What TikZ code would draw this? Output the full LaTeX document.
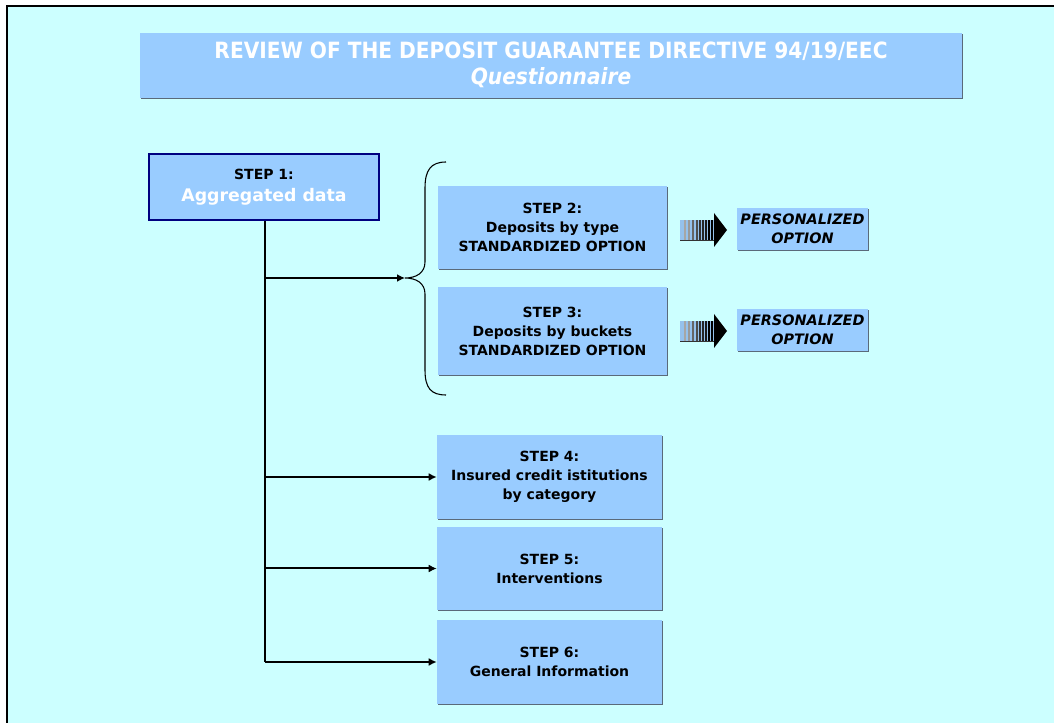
\documentclass[tikz,border=0pt]{standalone}
\usepackage{fontspec}
\setmainfont{DejaVu Sans}
\newfontfamily\cond{DejaVu Sans Condensed}
\usetikzlibrary{arrows.meta,shadows}
\definecolor{bgcyan}{HTML}{CCFFFF}
\definecolor{boxblue}{HTML}{99CCFF}
\definecolor{navy}{HTML}{000080}
\definecolor{shadowgray}{HTML}{5A6A7A}
\tikzset{
  bx/.style={rectangle, fill=boxblue, draw=none, inner sep=0pt, align=center,
    general shadow={fill=shadowgray, shadow xshift=1pt, shadow yshift=-1pt},
    font=\bfseries\fontsize{10.5}{14.25}\selectfont},
  stepw/.style={minimum width=171.75pt},
  lowstep/.style={minimum width=168.75pt, minimum height=63pt},
  popt/.style={minimum width=98.25pt, minimum height=31.5pt, font=\bfseries\itshape\fontsize{10.8}{14}\selectfont},
  link/.style={line width=1.5pt, -{Latex[length=6pt,width=6pt]}},
  trunk/.style={line width=1.5pt},
}
\begin{document}
\begin{tikzpicture}[x=0.75pt,y=-0.75pt]
\useasboundingbox (0,0) rectangle (1054,723);
% background and frame
\fill[white] (0,0) rectangle (1054,723);
\fill[bgcyan] (7,6) rectangle (1054,723);
\draw[line width=1.8pt] (7,723) -- (7,6) -- (1054,6);

% title
\node[bx, minimum width=616.5pt, minimum height=48.75pt, text=white,
  font=\cond\bfseries\fontsize{16.8}{19.5}\selectfont] (title) at (551,65.5)
  {\raisebox{3pt}{REVIEW OF THE DEPOSIT GUARANTEE DIRECTIVE 94/19/EEC}\\\raisebox{3pt}{\itshape Questionnaire}};

% step 1
\node[bx, minimum width=172.5pt, minimum height=49.5pt, draw=navy, line width=2.2pt] (s1) at (264,187)
  {STEP 1:\\[2pt]{\color{white}\fontsize{13}{16}\selectfont Aggregated data}};

% steps 2, 3
\node[bx, stepw, minimum height=62.25pt] (s2) at (552.5,227.5)
  {STEP 2:\\Deposits by type\\STANDARDIZED OPTION};
\node[bx, stepw, minimum height=66pt] (s3) at (552.5,331)
  {STEP 3:\\Deposits by buckets\\STANDARDIZED OPTION};

% personalized options
\node[bx, popt] (p2) at (802.5,229) {PERSONALIZED\\OPTION};
\node[bx, popt] (p3) at (802.5,330) {PERSONALIZED\\OPTION};

% steps 4-6
\node[bx, lowstep] (s4) at (549.5,477)
  {STEP 4:\\Insured credit istitutions\\by category};
\node[bx, lowstep, minimum height=62.25pt] (s5) at (549.5,568.5)
  {STEP 5:\\Interventions};
\node[bx, lowstep] (s6) at (549.5,662)
  {STEP 6:\\General Information};

% brace
\coordinate (bt) at (405,278);
\draw[line width=0.8pt] (446,162) .. controls (431,162) and (425,170) .. (425,188)
  -- (425,262) .. controls (425,273) and (416,278) .. (bt)
  .. controls (416,278) and (425,283) .. (425,294)
  -- (425,370) .. controls (425,388) and (431,395) .. (446,395);

% trunk and branches
\coordinate (j2) at (265,278);
\coordinate (j6) at (265,662);
\draw[trunk] (s1.south -| j6) -- (j6);
\draw[link] (j2) -- (bt);
\draw[link] (s4.west -| j6) -- (s4.west);
\draw[link] (s5.west -| j6) -- (s5.west);
\draw[link] (j6) -- (s6.west);

% striped block arrows
\foreach \yc in {230,331}{
  \fill[boxblue!85!gray] (680,\yc-10) rectangle (714,\yc+10);
  \foreach \xs/\cc in {684/gray!70, 688/gray!80, 692/black!60, 696/black!70, 699/black!80, 702/black!85, 705/black!90, 708/black, 711/black}{
    \fill[\cc] (\xs,\yc-10) rectangle (\xs+1.6,\yc+10);
  }
  \fill[black!80] (680,\yc+10) rectangle (714,\yc+11);
  \fill[black] (714,\yc-17) -- (727,\yc) -- (714,\yc+17) -- cycle;
}
\end{tikzpicture}
\end{document}
